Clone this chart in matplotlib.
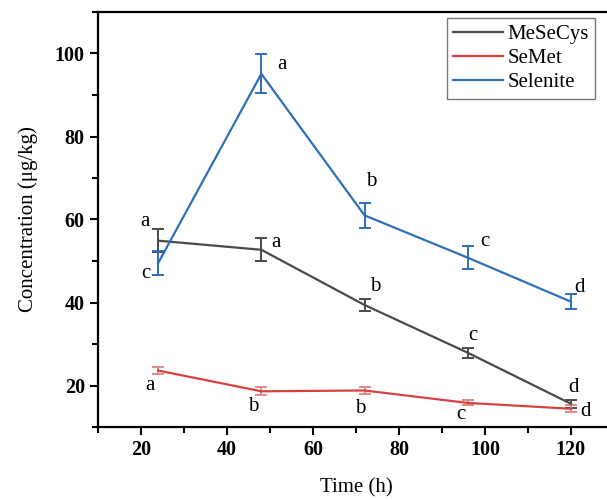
import matplotlib
matplotlib.use("Agg")
import matplotlib.pyplot as plt
from matplotlib.ticker import MultipleLocator

plt.rcParams['font.family'] = ['Liberation Serif', 'DejaVu Serif']

time_h = [24, 48, 72, 96, 120]

mesecys = [54.9, 52.7, 39.4, 27.9, 15.6]
mesecys_err = [2.7, 2.8, 1.5, 1.2, 1.0]
semet = [23.6, 18.6, 18.8, 15.8, 14.4]
semet_err = [0.8, 1.0, 0.9, 0.6, 0.8]
selenite = [49.5, 95.1, 61.0, 50.8, 40.2]
selenite_err = [2.9, 4.7, 3.0, 2.7, 1.8]

mesecys_letters = ['a', 'a', 'b', 'c', 'd']
semet_letters = ['a', 'b', 'b', 'c', 'd']
selenite_letters = ['c', 'a', 'b', 'c', 'd']

# where the significance letters sit (data coords)
mesecys_lab_xy = [(21.0, 59.6), (51.5, 54.4), (74.5, 43.9), (97.2, 32.0), (120.5, 19.4)]
semet_lab_xy = [(22.2, 20.0), (46.2, 14.9), (71.0, 14.4), (94.5, 13.0), (123.3, 13.7)]
selenite_lab_xy = [(21.2, 47.0), (52.8, 97.3), (73.5, 69.2), (100.0, 54.7), (122.0, 43.7)]

fig = plt.figure(figsize=(6.07, 5.0), dpi=100)
ax = fig.add_axes([0.1614, 0.146, 0.850, 0.830])

series = [
    ('MeSeCys', mesecys, mesecys_err, '#4a4a4a', '#4a4a4a', mesecys_letters, mesecys_lab_xy),
    ('SeMet', semet, semet_err, '#d94040', '#e08a8a', semet_letters, semet_lab_xy),
    ('Selenite', selenite, selenite_err, '#2f6fb8', '#2f6fb8', selenite_letters, selenite_lab_xy),
]

handles = []
names = []
for name, vals, err, col, ecol, letters, lab_xy in series:
    cont = ax.errorbar(time_h, vals, yerr=err, color=col, ecolor=ecol, lw=1.6,
                       elinewidth=1.4, capsize=4.5, capthick=1.4)
    handles.append(cont[0])
    names.append(name)
    for (lx, ly), t in zip(lab_xy, letters):
        ax.text(lx, ly, t, fontsize=15, ha='center', va='center')

ax.set_xlim(10, 130)
ax.set_ylim(10, 110)
ax.xaxis.set_minor_locator(MultipleLocator(10))
ax.yaxis.set_minor_locator(MultipleLocator(10))
ax.set_yticks([20, 40, 60, 80, 100])
ax.set_xticks([20, 40, 60, 80, 100, 120])

ax.tick_params(which='major', direction='out', length=6, width=1.5,
               labelsize=14.5)
ax.tick_params(which='minor', direction='out', length=4, width=1.5)
for lab in ax.get_xticklabels() + ax.get_yticklabels():
    lab.set_fontweight('bold')
for sp in ax.spines.values():
    sp.set_linewidth(1.6)

ax.set_xlabel('Time (h)', fontsize=15, labelpad=13)
ax.set_ylabel('Concentration (μg/kg)', fontsize=15, labelpad=12)

leg = ax.legend(handles, names, loc='upper left', bbox_to_anchor=(0.676, 0.985),
                fontsize=15, frameon=True, fancybox=False, edgecolor='#555555',
                handlelength=2.4, handletextpad=0.2, borderpad=0.3,
                labelspacing=0.22, borderaxespad=0, handleheight=0.7)
leg.get_frame().set_linewidth(1.0)

fig.savefig('out.png', dpi=100)
